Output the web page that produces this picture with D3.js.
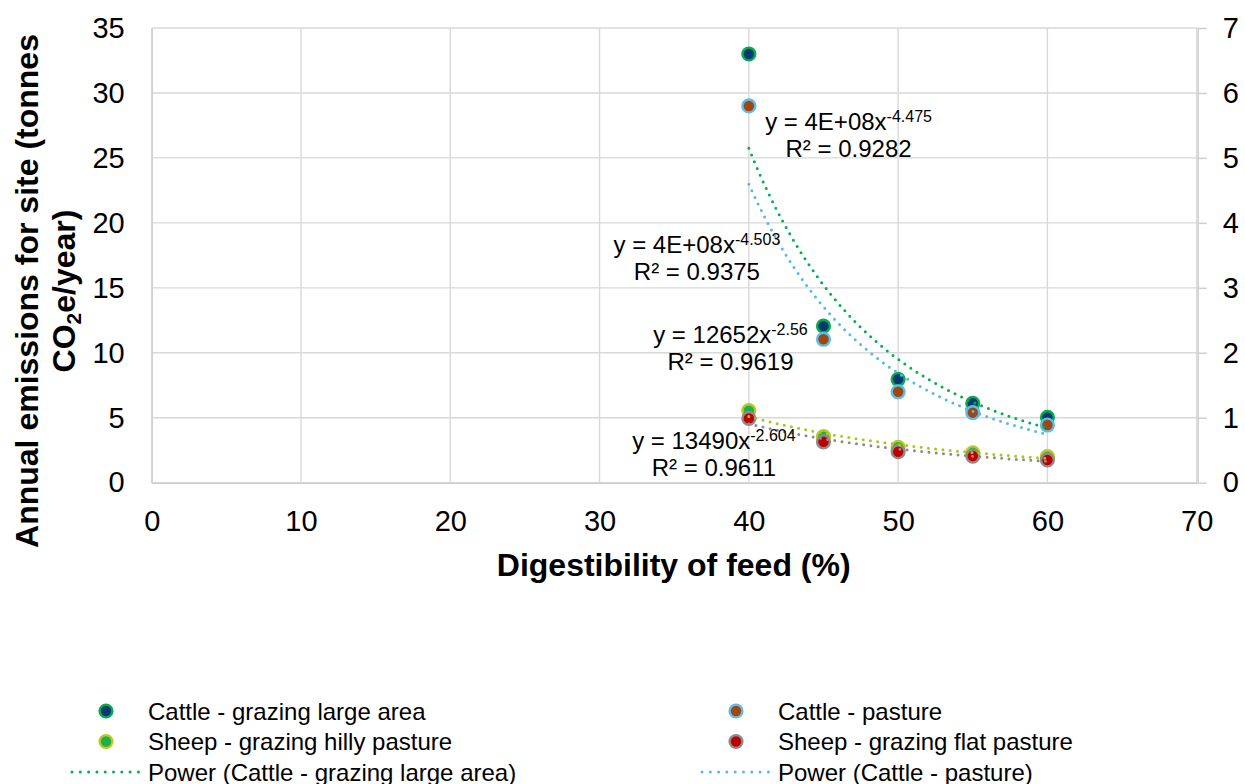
<!DOCTYPE html>
<html>
<head>
<meta charset="utf-8">
<script src="https://cdn.jsdelivr.net/npm/d3@7"></script>
<style>
  body { margin: 0; background: #fff; }
  svg text { font-family: Arial, "Liberation Sans", sans-serif; fill: #000; }
</style>
</head>
<body>
<div id="chart"></div>
<script>
// data
const digestibility = [40, 45, 50, 55, 60]
const cattleLarge = [33, 12.05, 7.96, 6.11, 5.03]     // left axis
const cattlePasture = [29, 11.04, 7.0, 5.39, 4.44]    // left axis
const sheepHilly = [1.11, 0.71, 0.545, 0.46, 0.40]    // right axis
const sheepFlat = [0.99, 0.63, 0.477, 0.41, 0.35]     // right axis
const seriesNames = ["Cattle - grazing large area", "Cattle - pasture",
  "Sheep - grazing hilly pasture", "Sheep - grazing flat pasture"]
const xTicks = [0, 10, 20, 30, 40, 50, 60, 70]
const yLeftTicks = [0, 5, 10, 15, 20, 25, 30, 35]
const yRightTicks = [0, 1, 2, 3, 4, 5, 6, 7]
const eqLabels = ["y = 4E+08x", "y = 4E+08x", "y = 12652x", "y = 13490x"]
const eqExponents = ["-4.475", "-4.503", "-2.56", "-2.604"]
const r2Labels = ["R² = 0.9282", "R² = 0.9375", "R² = 0.9619", "R² = 0.9611"]

const seriesValues = [cattleLarge, cattlePasture, sheepHilly, sheepFlat]
const seriesAxis = ["left", "left", "right", "right"]

// styles
const markerFill = ["#003A70", "#A0470F", "#1FAF4F", "#C00000"]
const markerStroke = ["#00B050", "#5DBCEA", "#B8CB1E", "#8C8C8C"]
const trendColor = ["#00B050", "#55B9E8", "#A9C61C", "#8C8C8C"]
// label anchor positions in data units (x, left-axis y)
const labelAnchor = [[46.68, 27.15], [36.52, 17.66], [38.77, 10.78], [37.66, 2.57]]

const W = 1245, H = 784
const m = { left: 151.7, right: 1197.7, top: 28, bottom: 482.7 }

const svg = d3.select("#chart").append("svg")
  .attr("width", W).attr("height", H)

const x = d3.scaleLinear().domain([0, 70]).range([m.left, m.right - 1])
const yL = d3.scaleLinear().domain([0, 35]).range([m.bottom, m.top])
const yR = d3.scaleLinear().domain([0, 7]).range([m.bottom, m.top])
const yOf = i => seriesAxis[i] === "left" ? yL : yR

// gridlines
const grid = svg.append("g")
grid.selectAll(".hg").data(yLeftTicks).enter().append("line")
  .attr("x1", m.left).attr("x2", m.right)
  .attr("y1", d => yL(d)).attr("y2", d => yL(d))
  .attr("stroke", "#D9D9D9").attr("stroke-width", 1.4)
grid.selectAll(".vg").data(xTicks).enter().append("line")
  .attr("x1", d => x(d)).attr("x2", d => x(d))
  .attr("y1", m.top).attr("y2", m.bottom)
  .attr("stroke", "#D9D9D9").attr("stroke-width", 1.4)

// axes
const fmt = d3.format("d")
const xAxisG = svg.append("g").attr("transform", `translate(0,${m.bottom})`)
  .call(d3.axisBottom(x).tickValues(xTicks).tickFormat(fmt).tickSize(0).tickSizeOuter(0).tickPadding(28))
const yLAxisG = svg.append("g").attr("transform", `translate(${m.left},0)`)
  .call(d3.axisLeft(yL).tickValues(yLeftTicks).tickFormat(fmt).tickSize(0).tickSizeOuter(0).tickPadding(27))
const yRAxisG = svg.append("g").attr("transform", `translate(${m.right},0)`)
  .call(d3.axisRight(yR).tickValues(yRightTicks).tickFormat(fmt).tickSize(9).tickSizeOuter(0).tickPadding(16))

;[xAxisG, yLAxisG, yRAxisG].forEach(g => {
  g.select(".domain").attr("stroke", "#CFCFCF").attr("stroke-width", 1.5)
  g.selectAll(".tick line").attr("stroke", "#CFCFCF").attr("stroke-width", 1.5)
  g.selectAll(".tick text").attr("font-size", "29px").attr("fill", "#000")
    .attr("font-family", 'Arial, "Liberation Sans", sans-serif')
})

// axis titles
svg.append("text")
  .attr("x", (m.left + m.right) / 2 - 1).attr("y", 576)
  .attr("text-anchor", "middle").attr("font-size", "32px").attr("font-weight", "bold")
  .text("Digestibility of feed (%)")

const yt = svg.append("g").attr("transform", "translate(0,291) rotate(-90)")
yt.append("text").attr("x", 0).attr("y", 38)
  .attr("text-anchor", "middle").attr("font-size", "32px").attr("font-weight", "bold")
  .text("Annual emissions for site (tonnes")
const yt2 = yt.append("text").attr("x", 0).attr("y", 75)
  .attr("text-anchor", "middle").attr("font-size", "32px").attr("font-weight", "bold")
yt2.append("tspan").text("CO")
yt2.append("tspan").attr("font-size", "21px").attr("dy", 6).text("2")
yt2.append("tspan").attr("dy", -6).text("e/year)")

// power trendlines fitted from the data (least squares on ln x, ln y)
function powerFit(xs, ys) {
  const lx = xs.map(Math.log), ly = ys.map(Math.log)
  const mx = d3.mean(lx), my = d3.mean(ly)
  const b = d3.sum(lx, (v, i) => (v - mx) * (ly[i] - my)) / d3.sum(lx, v => (v - mx) ** 2)
  const a = Math.exp(my - b * mx)
  return v => a * Math.pow(v, b)
}

const xFine = d3.range(d3.min(digestibility), d3.max(digestibility) + 0.001, 0.25)

// markers
seriesValues.forEach((vals, i) => {
  const y = yOf(i)
  svg.append("g").selectAll("circle")
    .data(digestibility.map((d, j) => [d, vals[j]]))
    .enter().append("circle")
    .attr("cx", d => x(d[0])).attr("cy", d => y(d[1]))
    .attr("r", 6.4)
    .attr("fill", markerFill[i]).attr("stroke", markerStroke[i]).attr("stroke-width", 2.4)
})

seriesValues.forEach((vals, i) => {
  const f = powerFit(digestibility, vals)
  const y = yOf(i)
  svg.append("path")
    .datum(xFine)
    .attr("fill", "none")
    .attr("stroke", trendColor[i]).attr("stroke-width", 3)
    .attr("stroke-linecap", "round").attr("stroke-dasharray", "0 7.3")
    .attr("d", d3.line().x(d => x(d)).y(d => y(f(d))))
})

// trendline labels
eqLabels.forEach((t, i) => {
  const cx = x(labelAnchor[i][0]), by = yL(labelAnchor[i][1])
  const t1 = svg.append("text").attr("x", cx).attr("y", by)
    .attr("text-anchor", "middle").attr("font-size", "24px")
  t1.append("tspan").text(t)
  t1.append("tspan").attr("font-size", "16px").attr("dy", -8).text(eqExponents[i])
  svg.append("text").attr("x", cx).attr("y", by + 27)
    .attr("text-anchor", "middle").attr("font-size", "24px")
    .text(r2Labels[i])
})

// legend
const legendItems = []
seriesNames.forEach((n, i) => legendItems.push({ name: n, kind: "marker", i: i }))
seriesNames.forEach((n, i) => legendItems.push({ name: `Power (${n})`, kind: "line", i: i }))

const colX = [106, 736]
const rowY = [711, 741.5, 772, 802.5]
legendItems.forEach((d, k) => {
  const col = k % 2, row = Math.floor(k / 2)
  const g = svg.append("g").attr("transform", `translate(${colX[col]},${rowY[row]})`)
  if (d.kind === "marker") {
    g.append("circle").attr("r", 6.4)
      .attr("fill", markerFill[d.i]).attr("stroke", markerStroke[d.i]).attr("stroke-width", 2.4)
  } else {
    g.append("line").attr("x1", -34).attr("x2", 35).attr("y1", 0).attr("y2", 0)
      .attr("stroke", trendColor[d.i]).attr("stroke-width", 3)
      .attr("stroke-linecap", "round").attr("stroke-dasharray", "0 8.3")
  }
  g.append("text").attr("x", 42).attr("y", 8.5)
    .attr("font-size", "24px").text(d.name)
})
</script>
</body>
</html>
